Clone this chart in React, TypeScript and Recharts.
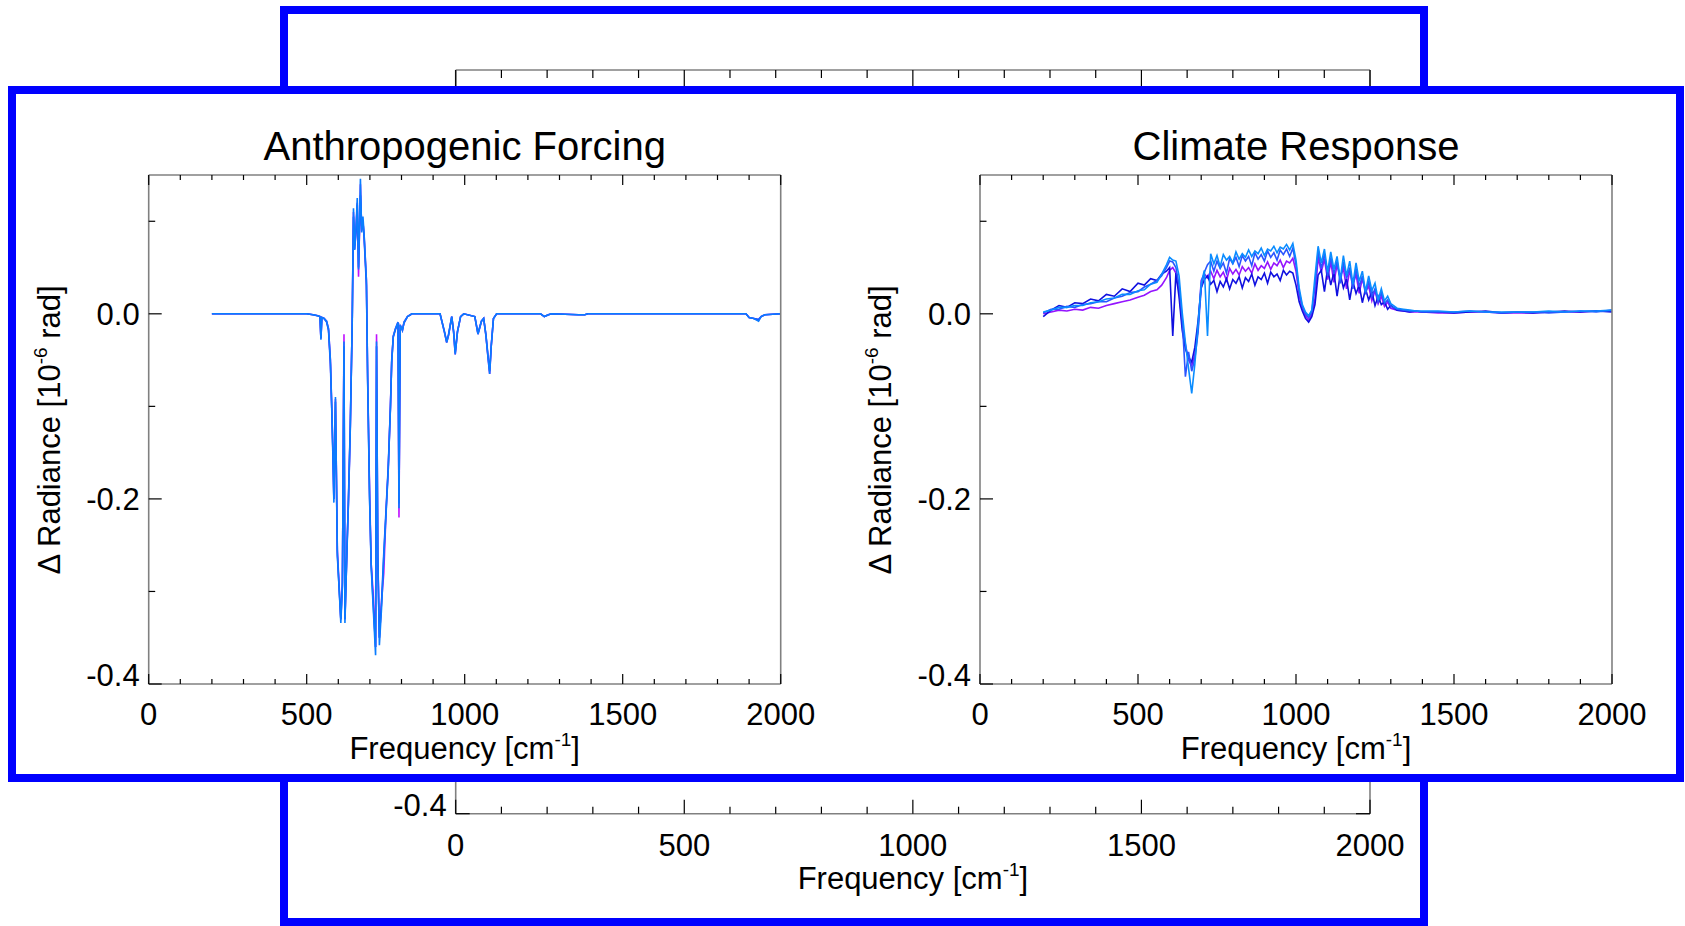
import React from 'react';
import { LineChart, Line, XAxis, YAxis } from 'recharts';

const FONT = '"Liberation Sans", Arial, Helvetica, sans-serif';
const AXIS = '#808080';
const BLUE_FRAME = '#0000ff';

const X_TICKS = [0, 100, 200, 300, 400, 500, 600, 700, 800, 900, 1000, 1100, 1200, 1300, 1400, 1500, 1600, 1700, 1800, 1900, 2000];
const Y_TICKS = [-0.4, -0.3, -0.2, -0.1, 0, 0.1];

// Anthropogenic forcing: frequency grid (cm-1) and three overlapping spectra
const LEFT_FREQ = [
  200, 300, 400, 500, 520, 535, 542, 545, 548, 555,
  563, 569, 575, 579, 583, 586, 591, 597, 608, 613,
  618, 621, 628, 632, 638, 644, 648, 652, 656, 660,
  664, 670, 674, 678, 682, 689, 693, 699, 704, 710,
  718, 721, 725, 730, 737, 744, 751, 758, 765, 769,
  774, 781, 789, 792, 796, 803, 808, 819, 833, 922,
  936, 943, 949, 959, 965, 970, 977, 987, 997, 1032,
  1042, 1053, 1060, 1067, 1074, 1079, 1084, 1091, 1101, 1240,
  1252, 1265, 1275, 1360, 1380, 1390, 1890, 1900, 1915, 1930,
  1938, 1950, 2000,
];
const FORCING_MAGENTA = [
  0, 0, 0, 0, -0.001, -0.002, -0.003, -0.027, -0.004, -0.005,
  -0.008, -0.016, -0.05, -0.097, -0.148, -0.2, -0.092, -0.255, -0.33, -0.293,
  -0.022, -0.33, -0.245, -0.205, -0.122, -0.009, 0.11, 0.07, 0.09, 0.12,
  0.04, 0.14, 0.09, 0.1, 0.082, 0.036, -0.07, -0.19, -0.27, -0.3,
  -0.36, -0.022, -0.26, -0.35, -0.31, -0.28, -0.215, -0.168, -0.1, -0.052,
  -0.024, -0.016, -0.009, -0.22, -0.012, -0.018, -0.009, -0.003, 0, 0,
  -0.02, -0.031, -0.023, -0.003, -0.02, -0.044, -0.02, -0.003, 0, -0.003,
  -0.022, -0.008, -0.005, -0.023, -0.048, -0.065, -0.035, -0.005, 0, 0,
  -0.003, -0.001, 0, -0.001, -0.001, 0, 0, -0.004, -0.005, -0.007,
  -0.003, -0.001, 0,
];
const FORCING_BLUE = [
  0, 0, 0, 0, -0.001, -0.002, -0.003, -0.026, -0.004, -0.005,
  -0.009, -0.018, -0.055, -0.1, -0.155, -0.2, -0.095, -0.262, -0.33, -0.29,
  -0.035, -0.33, -0.25, -0.2, -0.12, -0.012, 0.105, 0.074, 0.088, 0.118,
  0.05, 0.128, 0.095, 0.1, 0.08, 0.03, -0.075, -0.2, -0.27, -0.31,
  -0.36, -0.035, -0.265, -0.35, -0.31, -0.258, -0.212, -0.165, -0.1, -0.05,
  -0.025, -0.017, -0.01, -0.205, -0.013, -0.017, -0.01, -0.003, 0, 0,
  -0.019, -0.03, -0.022, -0.003, -0.019, -0.042, -0.019, -0.003, 0, -0.003,
  -0.021, -0.008, -0.005, -0.022, -0.046, -0.062, -0.034, -0.005, 0, 0,
  -0.003, -0.001, 0, -0.001, -0.001, 0, 0, -0.004, -0.005, -0.006,
  -0.003, -0.001, 0,
];
const FORCING_LIGHT = [
  0, 0, 0, 0, -0.001, -0.002, -0.003, -0.028, -0.004, -0.005,
  -0.008, -0.016, -0.05, -0.098, -0.15, -0.204, -0.09, -0.258, -0.334, -0.295,
  -0.03, -0.334, -0.247, -0.206, -0.124, -0.009, 0.114, 0.069, 0.092, 0.125,
  0.048, 0.146, 0.088, 0.105, 0.084, 0.036, -0.072, -0.198, -0.273, -0.314,
  -0.369, -0.03, -0.262, -0.358, -0.317, -0.262, -0.217, -0.169, -0.102, -0.053,
  -0.024, -0.016, -0.009, -0.21, -0.012, -0.018, -0.009, -0.003, 0, 0,
  -0.02, -0.031, -0.023, -0.003, -0.02, -0.044, -0.02, -0.003, 0, -0.003,
  -0.022, -0.008, -0.005, -0.023, -0.048, -0.065, -0.035, -0.005, 0, 0,
  -0.003, -0.001, 0, -0.001, -0.001, 0, 0, -0.004, -0.005, -0.008,
  -0.003, -0.001, 0,
];

// Climate response: frequency grid and four model spectra
const RIGHT_FREQ = [
  200, 225, 250, 275, 300, 325, 350, 375, 400, 425,
  450, 475, 500, 520, 540, 560, 575, 590, 600, 610,
  620, 630, 640, 650, 660, 670, 680, 690, 700, 710,
  720, 730, 740, 750, 760, 770, 780, 790, 800, 810,
  820, 830, 840, 850, 860, 870, 880, 890, 900, 910,
  920, 930, 940, 950, 960, 970, 980, 990, 1000, 1010,
  1020, 1030, 1040, 1050, 1060, 1070, 1080, 1090, 1100, 1110,
  1120, 1130, 1140, 1150, 1160, 1170, 1180, 1190, 1200, 1210,
  1220, 1230, 1240, 1250, 1260, 1270, 1280, 1290, 1300, 1320,
  1340, 1360, 1380, 1400, 1450, 1500, 1550, 1600, 1650, 1700,
  1750, 1800, 1850, 1900, 1950, 2000,
];
const RESPONSE_DARK = [
  -0.003, 0.004, 0.009, 0.007, 0.012, 0.011, 0.016, 0.014, 0.021, 0.019,
  0.027, 0.024, 0.033, 0.031, 0.038, 0.036, 0.043, 0.046, 0.05, -0.024,
  0.044, 0.018, -0.018, -0.038, -0.047, -0.052, -0.036, -0.008, 0.028, 0.037,
  0.041, 0.032, 0.036, 0.024, 0.035, 0.029, 0.038, 0.027, 0.037, 0.033,
  0.04, 0.028, 0.039, 0.035, 0.043, 0.031, 0.04, 0.037, 0.044, 0.033,
  0.045, 0.04, 0.043, 0.036, 0.047, 0.042, 0.046, 0.044, 0.031, 0.013,
  0.003, -0.005, -0.009, -0.003, 0.01, 0.042, 0.047, 0.024, 0.049, 0.031,
  0.045, 0.019, 0.043, 0.028, 0.038, 0.015, 0.035, 0.022, 0.031, 0.012,
  0.027, 0.015, 0.024, 0.009, 0.019, 0.01, 0.013, 0.005, 0.009, 0.004,
  0.003, 0.002, 0.003, 0.002, 0.002, 0.001, 0.002, 0.003, 0.001, 0.002,
  0.001, 0.002, 0.003, 0.002, 0.003, 0.002,
];
const RESPONSE_PURPLE = [
  0, 0.002, 0.004, 0.003, 0.005, 0.004, 0.007, 0.006, 0.009, 0.011,
  0.013, 0.015, 0.018, 0.02, 0.024, 0.026, 0.031, 0.039, 0.047, 0.05,
  0.044, 0.024, -0.012, -0.033, -0.05, -0.056, -0.044, -0.016, 0.036, 0.043,
  0.039, 0.046, 0.038, 0.047, 0.04, 0.045, 0.036, 0.049, 0.043, 0.048,
  0.042, 0.051, 0.046, 0.05, 0.044, 0.054, 0.047, 0.052, 0.049, 0.056,
  0.048, 0.055, 0.052, 0.058, 0.05, 0.057, 0.055, 0.06, 0.046, 0.02,
  0.006, -0.002, -0.007, 0, 0.016, 0.061, 0.045, 0.059, 0.037, 0.056,
  0.034, 0.053, 0.04, 0.049, 0.027, 0.047, 0.031, 0.043, 0.022, 0.038,
  0.024, 0.03, 0.014, 0.025, 0.011, 0.019, 0.008, 0.013, 0.006, 0.004,
  0.003, 0.002, 0.002, 0.002, 0.001, 0.001, 0.002, 0.002, 0.001, 0.001,
  0.001, 0.002, 0.002, 0.002, 0.003, 0.003,
];
const RESPONSE_BLUE = [
  0.001, 0.005, 0.005, 0.008, 0.007, 0.01, 0.011, 0.013, 0.013, 0.017,
  0.019, 0.023, 0.024, 0.029, 0.032, 0.036, 0.041, 0.05, 0.057, 0.056,
  0.05, 0.031, -0.006, -0.068, -0.041, -0.062, -0.048, -0.02, 0.028, 0.045,
  0.053, 0.057, 0.046, 0.057, 0.049, 0.055, 0.044, 0.06, 0.054, 0.061,
  0.051, 0.063, 0.057, 0.062, 0.052, 0.066, 0.059, 0.064, 0.057, 0.068,
  0.061, 0.066, 0.058, 0.069, 0.064, 0.07, 0.062, 0.071, 0.053, 0.024,
  0.008, 0, -0.004, 0.002, 0.03, 0.067, 0.049, 0.065, 0.041, 0.061,
  0.043, 0.057, 0.033, 0.056, 0.038, 0.05, 0.027, 0.049, 0.029, 0.041,
  0.021, 0.036, 0.019, 0.027, 0.013, 0.023, 0.011, 0.015, 0.008, 0.005,
  0.004, 0.003, 0.003, 0.002, 0.002, 0.002, 0.003, 0.002, 0.001, 0.002,
  0.002, 0.001, 0.002, 0.003, 0.002, 0.004,
];
const RESPONSE_LIGHT = [
  0.002, 0.004, 0.007, 0.007, 0.009, 0.009, 0.012, 0.013, 0.016, 0.017,
  0.021, 0.021, 0.025, 0.026, 0.032, 0.034, 0.043, 0.053, 0.061, 0.058,
  0.057, 0.041, 0.001, -0.031, -0.059, -0.086, -0.054, -0.012, 0.033, 0.047,
  -0.024, 0.065, 0.054, 0.063, 0.051, 0.064, 0.058, 0.062, 0.055, 0.067,
  0.059, 0.065, 0.061, 0.069, 0.062, 0.068, 0.065, 0.071, 0.063, 0.07,
  0.068, 0.073, 0.066, 0.072, 0.07, 0.075, 0.069, 0.076, 0.058, 0.028,
  0.01, 0.002, -0.002, 0.004, 0.04, 0.073, 0.055, 0.07, 0.045, 0.067,
  0.048, 0.062, 0.037, 0.063, 0.041, 0.057, 0.032, 0.055, 0.035, 0.046,
  0.024, 0.041, 0.025, 0.033, 0.015, 0.027, 0.014, 0.019, 0.011, 0.006,
  0.005, 0.004, 0.003, 0.003, 0.003, 0.002, 0.003, 0.002, 0.002, 0.002,
  0.002, 0.003, 0.002, 0.003, 0.003, 0.004,
];

const leftRows = LEFT_FREQ.map((f, i) => ({
  f,
  mg: FORCING_MAGENTA[i],
  bl: FORCING_BLUE[i],
  lb: FORCING_LIGHT[i],
}));
const rightRows = RIGHT_FREQ.map((f, i) => ({
  f,
  pu: RESPONSE_PURPLE[i],
  dk: RESPONSE_DARK[i],
  bl: RESPONSE_BLUE[i],
  lb: RESPONSE_LIGHT[i],
}));

const leftSeries = [
  { key: 'mg', color: '#c010ff' },
  { key: 'bl', color: '#2046ff' },
  { key: 'lb', color: '#0a7cff' },
];
const rightSeries = [
  { key: 'pu', color: '#9414ff' },
  { key: 'dk', color: '#1010e0' },
  { key: 'bl', color: '#2a55ff' },
  { key: 'lb', color: '#0a8cff' },
];

// ticks point inward, like the IDL box axes
function xTick(side: 'top' | 'bottom', major: number, minor: number, labelDy: number | null) {
  return (props: any) => {
    const { x, y, payload } = props;
    const v = payload.value as number;
    const isMajor = v % 500 === 0;
    const len = isMajor ? major : minor;
    const y2 = side === 'bottom' ? y - len : y + len;
    return (
      <g>
        <line x1={x} y1={y} x2={x} y2={y2} stroke="#000" strokeWidth={1.2} />
        {labelDy !== null && isMajor && (
          <text x={x} y={y + labelDy} textAnchor="middle" fontSize={31} fontFamily={FONT} fill="#000">
            {v}
          </text>
        )}
      </g>
    );
  };
}

function yTick(side: 'left' | 'right', major: number, minor: number, showLabel: boolean) {
  return (props: any) => {
    const { x, y, payload } = props;
    const v = payload.value as number;
    const isMajor = Math.abs(Math.round(v * 10)) % 2 === 0;
    const len = isMajor ? major : minor;
    const x2 = side === 'left' ? x + len : x - len;
    const dy = v <= -0.39 ? 2 : 11;
    return (
      <g>
        <line x1={x} y1={y} x2={x2} y2={y} stroke="#000" strokeWidth={1.2} />
        {showLabel && isMajor && (
          <text x={x - 9} y={y + dy} textAnchor="end" fontSize={31} fontFamily={FONT} fill="#000">
            {v.toFixed(1)}
          </text>
        )}
      </g>
    );
  };
}

const axisLine = { stroke: AXIS, strokeWidth: 1.6 };

// each axis band is 1px thick, so the margins are 1px smaller than the plot insets
function Panel({ left, marginLeft, marginRight, rows, series }: any) {
  return (
    <div style={{ position: 'absolute', left, top: 90 }}>
      <LineChart
        width={840}
        height={690}
        data={rows}
        margin={{ top: 84, bottom: 95, left: marginLeft - 1, right: marginRight - 1 }}
      >
        <XAxis xAxisId="b" dataKey="f" type="number" domain={[0, 2000]} ticks={X_TICKS} interval={0}
          orientation="bottom" height={1} tickSize={0} tickMargin={0}
          axisLine={axisLine} tick={xTick('bottom', 10, 5, 41)} />
        <XAxis xAxisId="t" dataKey="f" type="number" domain={[0, 2000]} ticks={X_TICKS} interval={0}
          orientation="top" height={1} tickSize={0} tickMargin={0}
          axisLine={axisLine} tick={xTick('top', 10, 5, null)} />
        <YAxis yAxisId="l" type="number" domain={[-0.4, 0.15]} ticks={Y_TICKS} interval={0}
          orientation="left" width={1} tickSize={0} tickMargin={0}
          axisLine={axisLine} tick={yTick('left', 13, 6.5, true)} />
        <YAxis yAxisId="r" type="number" domain={[-0.4, 0.15]} ticks={Y_TICKS} interval={0}
          orientation="right" width={1} tickSize={0} tickMargin={0}
          axisLine={axisLine} tick={yTick('right', 13, 6.5, false)} />
        {series.map((s: any) => (
          <Line key={s.key} xAxisId="b" yAxisId="l" type="linear" dataKey={s.key} stroke={s.color}
            strokeWidth={1.6} dot={false} activeDot={false} isAnimationActive={false} />
        ))}
      </LineChart>
    </div>
  );
}

// the panel lying behind: only its outer axes show around the front frame
function BackPanel() {
  return (
    <div style={{ position: 'absolute', left: 0, top: 0 }}>
      <LineChart width={1685} height={926} data={leftRows}
        margin={{ top: 69, bottom: 111.3, left: 454.7, right: 314 }}>
        <XAxis xAxisId="b" dataKey="f" type="number" domain={[0, 2000]} ticks={X_TICKS} interval={0}
          orientation="bottom" height={1} tickSize={0} tickMargin={0}
          axisLine={axisLine} tick={xTick('bottom', 14, 7, 42)} />
        <XAxis xAxisId="t" dataKey="f" type="number" domain={[0, 2000]} ticks={X_TICKS} interval={0}
          orientation="top" height={1} tickSize={0} tickMargin={0}
          axisLine={axisLine} tick={xTick('top', 16, 8, null)} />
        <YAxis yAxisId="l" dataKey="lb" type="number" domain={[-0.4, 0.15]} ticks={Y_TICKS} interval={0}
          orientation="left" width={1} tickSize={0} tickMargin={0} allowDataOverflow
          axisLine={axisLine} tick={yTick('left', 14, 7, true)} />
        <YAxis yAxisId="r" dataKey="lb" type="number" domain={[-0.4, 0.15]} ticks={Y_TICKS} interval={0}
          orientation="right" width={1} tickSize={0} tickMargin={0} allowDataOverflow
          axisLine={axisLine} tick={yTick('right', 14, 7, false)} />
      </LineChart>
    </div>
  );
}

function FreqTitle({ x, y }: { x: number; y: number }) {
  return (
    <text x={x} y={y} textAnchor="middle" fontSize={31} fontFamily={FONT} fill="#000">
      Frequency [cm<tspan dy={-13} fontSize={19}>-1</tspan><tspan dy={13}>]</tspan>
    </text>
  );
}

function RadTitle({ x, y }: { x: number; y: number }) {
  return (
    <text transform={`translate(${x}, ${y}) rotate(-90)`} textAnchor="middle" fontSize={31}
      fontFamily={FONT} fill="#000">
      Δ Radiance [10<tspan dy={-13} fontSize={19}>-6</tspan><tspan dy={13}> rad]</tspan>
    </text>
  );
}

export default function App() {
  return (
    <div style={{ position: 'absolute', left: 0, top: 0, width: 1685, height: 926, background: '#fff', overflow: 'hidden' }}>
      <div style={{ position: 'absolute', left: 280, top: 6, width: 1148, height: 920, border: `8px solid ${BLUE_FRAME}`, boxSizing: 'border-box' }} />
      <BackPanel />
      <div style={{ position: 'absolute', left: 8, top: 86, width: 1676, height: 696, border: `8px solid ${BLUE_FRAME}`, boxSizing: 'border-box', background: '#fff' }} />
      <Panel left={0} marginLeft={148.7} marginRight={59.3} rows={leftRows} series={leftSeries} />
      <Panel left={840} marginLeft={140} marginRight={68} rows={rightRows} series={rightSeries} />
      <svg width={1685} height={926} style={{ position: 'absolute', left: 0, top: 0, pointerEvents: 'none' }}>
        <text x={464.7} y={160} textAnchor="middle" fontSize={40} fontFamily={FONT} fill="#000">Anthropogenic Forcing</text>
        <text x={1296} y={160} textAnchor="middle" fontSize={40} fontFamily={FONT} fill="#000">Climate Response</text>
        <FreqTitle x={464.7} y={759} />
        <FreqTitle x={1296} y={759} />
        <FreqTitle x={912.9} y={889} />
        <RadTitle x={60} y={430} />
        <RadTitle x={891} y={430} />
      </svg>
    </div>
  );
}
